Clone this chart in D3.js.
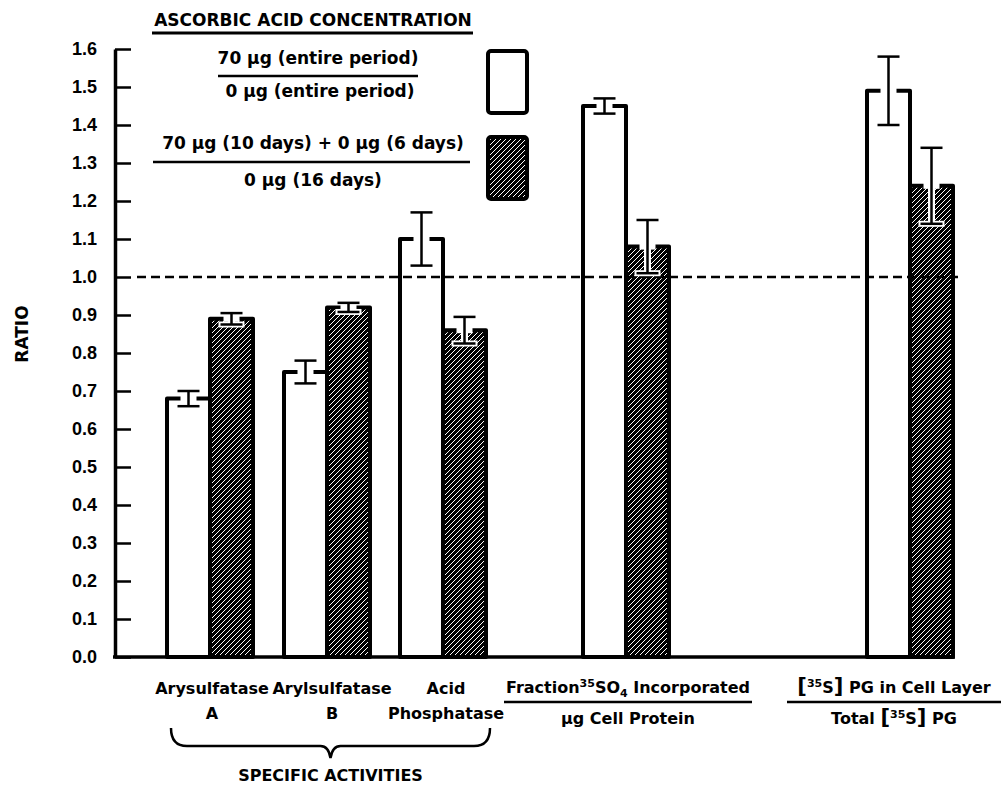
<!DOCTYPE html>
<html lang="en">
<head>
<meta charset="utf-8">
<script src="https://d3js.org/d3.v7.min.js"></script>
<style>
  body { margin: 0; background: #fff; }
  svg text { font-family: "DejaVu Sans", sans-serif; font-weight: bold; fill: #000; }
  .y-axis .tick text { font-family: "Liberation Sans", sans-serif; font-size: 18px; }
</style>
</head>
<body>
<script>
// Values (ratio, +/- error)
var categories = ["Arysulfatase A", "Arylsulfatase B", "Acid Phosphatase",
                  "Fraction 35SO4 / ug Cell Protein", "[35S] PG in Cell Layer / Total [35S] PG"];
var entireValues  = [0.68, 0.75, 1.10, 1.45, 1.49];
var entireErrors  = [0.02, 0.03, 0.07, 0.02, 0.09];
var partialValues = [0.89, 0.92, 0.86, 1.08, 1.24];
var partialErrors = [0.015, 0.012, 0.035, 0.07, 0.10];
var yTickValues = [0, 0.1, 0.2, 0.3, 0.4, 0.5, 0.6, 0.7, 0.8, 0.9, 1.0, 1.1, 1.2, 1.3, 1.4, 1.5, 1.6];
var yTickLabels = ["0.0", "0.1", "0.2", "0.3", "0.4", "0.5", "0.6", "0.7", "0.8", "0.9",
                   "1.0", "1.1", "1.2", "1.3", "1.4", "1.5", "1.6"];
var referenceValue = 1.0;

var w = 1008, h = 787;
var barW = 43;

// y scale, and group centres (the groups are not evenly spaced in the original)
var y = d3.scaleLinear().domain([0, 1.6]).range([657, 49]);
var x = d3.scaleOrdinal().domain(categories).range([210, 327, 443, 626, 910]);

var svg = d3.select("body").append("svg")
    .attr("width", w)
    .attr("height", h);

svg.append("rect").attr("width", w).attr("height", h).attr("fill", "#fff");

// hatch pattern: black with thin white "/" lines
var defs = svg.append("defs");
var pat = defs.append("pattern")
    .attr("id", "hatch")
    .attr("patternUnits", "userSpaceOnUse")
    .attr("width", 5)
    .attr("height", 5);
pat.append("rect").attr("width", 5).attr("height", 5).attr("fill", "#000");
pat.append("path")
    .attr("d", "M0,5 L5,0 M-1,1 L1,-1 M4,6 L6,4")
    .attr("stroke", "#fff").attr("stroke-width", 1.2)
    .attr("shape-rendering", "crispEdges");

// build bar rows
var bars = [];
categories.forEach(function(c, i) {
    bars.push({ cat: c, kind: "entire", value: entireValues[i], err: entireErrors[i],
                x0: x(c) - barW });
    bars.push({ cat: c, kind: "partial", value: partialValues[i], err: partialErrors[i],
                x0: x(c) });
});

// bars
svg.append("g").selectAll("rect")
    .data(bars)
    .enter().append("rect")
    .attr("x", function(d) { return d.x0; })
    .attr("y", function(d) { return y(d.value); })
    .attr("width", barW)
    .attr("height", function(d) { return y(0) - y(d.value); })
    .attr("fill", function(d) { return d.kind == "entire" ? "#fff" : "url(#hatch)"; })
    .attr("stroke", "#000")
    .attr("stroke-width", 4)
    .attr("stroke-linejoin", "round");

// dashed reference line at 1.0
svg.append("line")
    .attr("x1", 137).attr("x2", 962)
    .attr("y1", y(referenceValue)).attr("y2", y(referenceValue))
    .attr("stroke", "#000")
    .attr("stroke-width", 2.5)
    .attr("stroke-dasharray", "9,5");

// error bars
var eb = svg.append("g").selectAll("g")
    .data(bars)
    .enter().append("g");

function cx(d) { return d.x0 + barW / 2; }

// white halo for the part inside the bar
eb.append("line")
    .attr("x1", cx).attr("x2", cx)
    .attr("y1", function(d) { return y(d.value); })
    .attr("y2", function(d) { return y(d.value - d.err); })
    .attr("stroke", "#fff").attr("stroke-width", 7);
eb.append("line")
    .attr("x1", function(d) { return cx(d) - 13; })
    .attr("x2", function(d) { return cx(d) + 13; })
    .attr("y1", function(d) { return y(d.value - d.err); })
    .attr("y2", function(d) { return y(d.value - d.err); })
    .attr("stroke", "#fff").attr("stroke-width", 6);
// gap in the bar top border
eb.append("line")
    .attr("x1", function(d) { return cx(d) - 8; })
    .attr("x2", function(d) { return cx(d) + 8; })
    .attr("y1", function(d) { return y(d.value); })
    .attr("y2", function(d) { return y(d.value); })
    .attr("stroke", "#fff").attr("stroke-width", 6);
// the I-beam
eb.append("line")
    .attr("x1", cx).attr("x2", cx)
    .attr("y1", function(d) { return y(d.value + d.err); })
    .attr("y2", function(d) { return y(d.value - d.err); })
    .attr("stroke", "#000").attr("stroke-width", 2.5);
eb.selectAll(".cap")
    .data(function(d) { return [[d, d.value + d.err], [d, d.value - d.err]]; })
    .enter().append("line")
    .attr("class", "cap")
    .attr("x1", function(p) { return cx(p[0]) - 11; })
    .attr("x2", function(p) { return cx(p[0]) + 11; })
    .attr("y1", function(p) { return y(p[1]); })
    .attr("y2", function(p) { return y(p[1]); })
    .attr("stroke", "#000").attr("stroke-width", 2.5);

// y axis, ticks pointing inward
var yAxis = d3.axisLeft(y)
    .tickValues(yTickValues)
    .tickFormat(function(d, i) { return yTickLabels[i]; })
    .tickSizeInner(-16)
    .tickSizeOuter(0)
    .tickPadding(18);

var ga = svg.append("g")
    .attr("class", "y-axis")
    .attr("transform", "translate(115,0)")
    .call(yAxis);
ga.select(".domain").attr("stroke-width", 3.5);
ga.selectAll(".tick line").attr("stroke-width", 2.5);
ga.selectAll(".tick text").attr("fill", "#000");

// baseline
svg.append("line")
    .attr("x1", 113).attr("x2", x(categories[4]) + barW + 2)
    .attr("y1", y(0)).attr("y2", y(0))
    .attr("stroke", "#000").attr("stroke-width", 3.5);

svg.append("text")
    .attr("transform", "translate(22," + y(0.85) + ") rotate(-90)")
    .attr("text-anchor", "middle")
    .attr("dominant-baseline", "central")
    .style("font-size", "17px")
    .text("RATIO");

// legend
var lg = svg.append("g");
lg.append("text").attr("x", 313).attr("y", 26).attr("text-anchor", "middle")
    .style("font-size", "17px").text("ASCORBIC ACID CONCENTRATION");
lg.append("line").attr("x1", 152).attr("x2", 473).attr("y1", 33).attr("y2", 33)
    .attr("stroke", "#000").attr("stroke-width", 3);

lg.append("text").attr("x", 318).attr("y", 64).attr("text-anchor", "middle")
    .style("font-size", "17px").text("70 \u03bcg (entire period)");
lg.append("line").attr("x1", 218).attr("x2", 418).attr("y1", 76).attr("y2", 76)
    .attr("stroke", "#000").attr("stroke-width", 2.5);
lg.append("text").attr("x", 320).attr("y", 97).attr("text-anchor", "middle")
    .style("font-size", "17px").text("0 \u03bcg (entire period)");

lg.append("text").attr("x", 313).attr("y", 149).attr("text-anchor", "middle")
    .style("font-size", "17px").text("70 \u03bcg (10 days) + 0 \u03bcg (6 days)");
lg.append("line").attr("x1", 153).attr("x2", 470).attr("y1", 162).attr("y2", 162)
    .attr("stroke", "#000").attr("stroke-width", 2.5);
lg.append("text").attr("x", 313).attr("y", 186).attr("text-anchor", "middle")
    .style("font-size", "17px").text("0 \u03bcg (16 days)");

lg.append("rect").attr("x", 488).attr("y", 51).attr("width", 39).attr("height", 62).attr("rx", 3)
    .attr("fill", "#fff").attr("stroke", "#000").attr("stroke-width", 4);
lg.append("rect").attr("x", 488).attr("y", 137).attr("width", 39).attr("height", 62).attr("rx", 3)
    .attr("fill", "url(#hatch)").attr("stroke", "#000").attr("stroke-width", 4);

// category labels
var lab = svg.append("g").style("font-size", "16px").attr("text-anchor", "middle");
function twoLine(cxp, a, b) {
    lab.append("text").attr("x", cxp).attr("y", 694).text(a);
    lab.append("text").attr("x", cxp).attr("y", 719).text(b);
}
twoLine(x(categories[0]) + 2, "Arysulfatase", "A");
twoLine(x(categories[1]) + 5, "Arylsulfatase", "B");
twoLine(x(categories[2]) + 3, "Acid", "Phosphatase");

// fraction labels
var fx = x(categories[3]) + 2;
var t1 = lab.append("text").attr("x", fx).attr("y", 693);
t1.append("tspan").text("Fraction");
t1.append("tspan").attr("dy", -6).style("font-size", "11px").text("35");
t1.append("tspan").attr("dy", 6).text("SO");
t1.append("tspan").attr("dy", 4).style("font-size", "11px").text("4");
t1.append("tspan").attr("dy", -4).text(" Incorporated");
lab.append("line").attr("x1", fx - 124).attr("x2", fx + 124).attr("y1", 702).attr("y2", 702)
    .attr("stroke", "#000").attr("stroke-width", 2.5);
lab.append("text").attr("x", fx).attr("y", 724).text("\u03bcg Cell Protein");

var ex = x(categories[4]) - 16;
var t2 = lab.append("text").attr("x", ex).attr("y", 693);
t2.append("tspan").style("font-size", "21px").text("[");
t2.append("tspan").attr("dy", -6).style("font-size", "11px").text("35");
t2.append("tspan").attr("dy", 6).text("S");
t2.append("tspan").style("font-size", "21px").text("]");
t2.append("tspan").text("  PG in Cell Layer");
lab.append("line").attr("x1", ex - 107).attr("x2", ex + 107).attr("y1", 702).attr("y2", 702)
    .attr("stroke", "#000").attr("stroke-width", 2.5);
var t3 = lab.append("text").attr("x", ex).attr("y", 724);
t3.append("tspan").text("Total ");
t3.append("tspan").style("font-size", "21px").text("[");
t3.append("tspan").attr("dy", -6).style("font-size", "11px").text("35");
t3.append("tspan").attr("dy", 6).text("S");
t3.append("tspan").style("font-size", "21px").text("]");
t3.append("tspan").text(" PG");

// brace under the three specific activities
var xl = x(categories[0]) - barW + 4, xr = x(categories[2]) + barW + 4;
var mid = (xl + xr) / 2;
svg.append("path")
    .attr("d", "M" + xl + ",728 Q" + xl + ",746 " + (xl + 16) + ",746 L" + (mid - 10) + ",746 Q" +
          (mid - 2) + ",746 " + mid + ",758 Q" + (mid + 2) + ",746 " + (mid + 10) + ",746 L" +
          (xr - 16) + ",746 Q" + xr + ",746 " + xr + ",728")
    .attr("fill", "none").attr("stroke", "#000").attr("stroke-width", 2.5);

svg.append("text").attr("x", mid).attr("y", 781).attr("text-anchor", "middle")
    .style("font-size", "16px").text("SPECIFIC ACTIVITIES");
</script>
</body>
</html>
